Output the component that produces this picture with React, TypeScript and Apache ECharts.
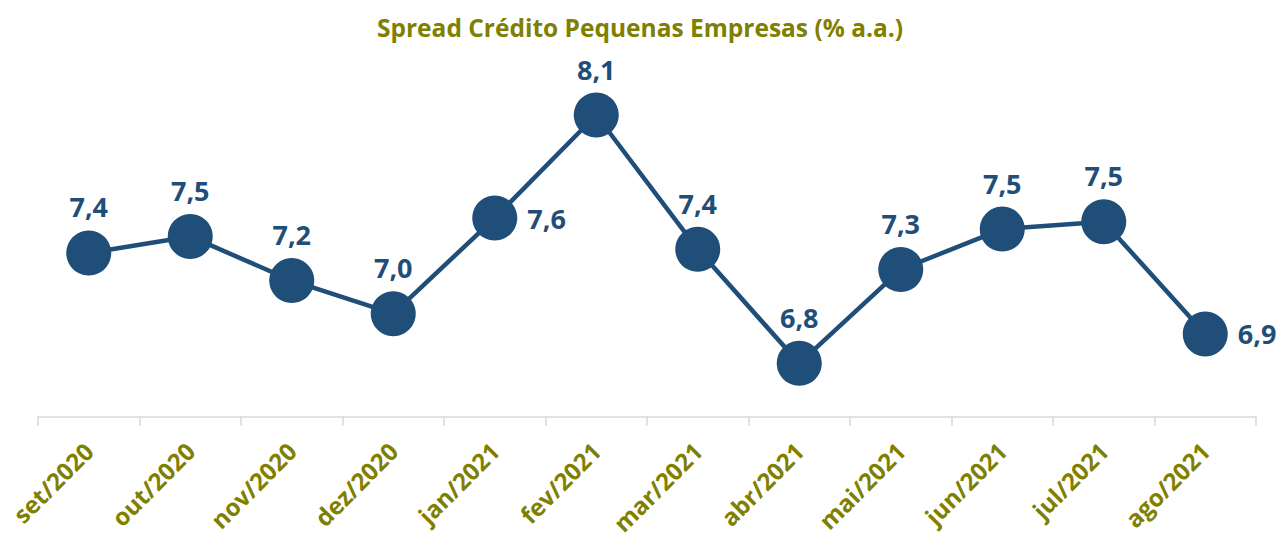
import React, { useEffect, useRef } from "react";
import * as echarts from "echarts";

const title = "Spread Crédito Pequenas Empresas (% a.a.)";
const categories = [
  "set/2020", "out/2020", "nov/2020", "dez/2020", "jan/2021", "fev/2021",
  "mar/2021", "abr/2021", "mai/2021", "jun/2021", "jul/2021", "ago/2021",
];
const spread = [7.37, 7.46, 7.22, 7.04, 7.56, 8.12, 7.39, 6.77, 7.28, 7.5, 7.54, 6.93];
// label placement per point: "top" or "right"
const labelSide = ["top", "top", "top", "top", "right", "top", "top", "top", "top", "top", "top", "right"];

const BLUE = "#1F4E79";
const OLIVE = "#7F7F00";
const FONT = "'Open Sans', 'DejaVu Sans', sans-serif";

export default function App() {
  const ref = useRef<HTMLDivElement>(null);
  useEffect(() => {
    if (!ref.current) return;
    const chart = echarts.init(ref.current, null, { renderer: "svg" });
    chart.setOption({
      animation: false,
      backgroundColor: "#ffffff",
      title: {
        text: title,
        left: "center",
        top: 10,
        textStyle: { color: OLIVE, fontFamily: FONT, fontWeight: "bold", fontSize: 24.5 },
      },
      grid: { left: 38, right: 24, top: 63.5, bottom: 121.3, containLabel: false },
      xAxis: {
        type: "category",
        data: categories,
        boundaryGap: true,
        axisLine: { show: true, lineStyle: { color: "#D9D9D9", width: 1.5 } },
        axisTick: { show: true, length: 9, lineStyle: { color: "#D9D9D9", width: 1.5 } },
        axisLabel: {
          rotate: 45,
          margin: 30,
          color: OLIVE,
          fontFamily: FONT,
          fontWeight: "bold",
          fontSize: 24,
          interval: 0,
        },
      },
      yAxis: {
        type: "value",
        min: 6.48,
        max: 8.4,
        show: false,
        splitLine: { show: false },
      },
      series: [
        {
          type: "line",
          data: spread.map((v, i) => ({
            value: v,
            label: { position: labelSide[i] },
          })),
          symbol: "circle",
          symbolSize: 45,
          itemStyle: { color: BLUE },
          lineStyle: { color: BLUE, width: 4.5 },
          label: {
            show: true,
            distance: 10,
            color: BLUE,
            fontFamily: FONT,
            fontWeight: "bold",
            fontSize: 27,
            formatter: (p: any) => Number(p.value).toFixed(1).replace(".", ","),
          },
        },
      ],
    });
    return () => chart.dispose();
  }, []);
  return (
    <div
      ref={ref}
      style={{ position: "fixed", left: 0, top: 0, width: 1280, height: 538 }}
    />
  );
}
